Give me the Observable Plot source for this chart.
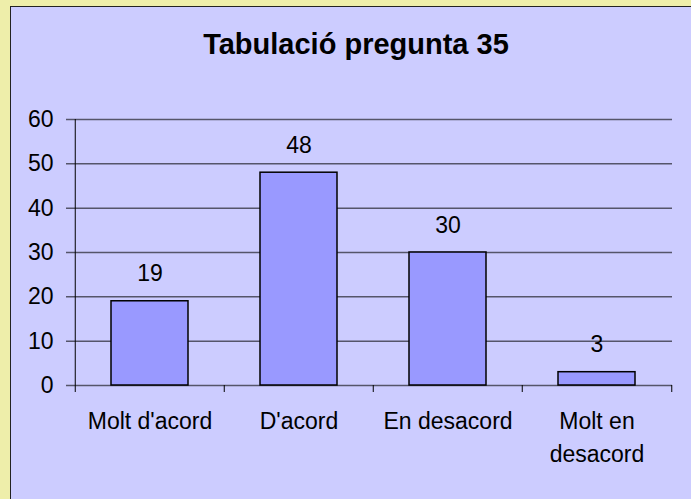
<!DOCTYPE html>
<html>
<head>
<meta charset="utf-8">
<script src="https://cdn.jsdelivr.net/npm/d3@7"></script>
<script src="https://cdn.jsdelivr.net/npm/@observablehq/plot@0.6"></script>
<style>
  html, body { margin: 0; padding: 0; }
  body { width: 691px; height: 499px; background: #EEEEAA; position: relative; overflow: hidden; font-family: "Liberation Sans", Arial, sans-serif; }
  #panel { position: absolute; left: 10px; top: 6px; width: 700px; height: 520px; background: #CCCCFF; border-left: 1.5px solid #222; border-top: 1.5px solid #222; }
  #title { position: absolute; left: 0; width: 712px; top: 30px; line-height: 29px; text-align: center; font-size: 29px; font-weight: bold; color: #000; }
  #chart { position: absolute; left: 0; top: 0; }
</style>
</head>
<body>
<div id="panel"></div>
<div id="title">Tabulació pregunta 35</div>
<div id="chart"></div>
<script>
const categories = ["Molt d'acord", "D'acord", "En desacord", "Molt en desacord"];
const categoryLabels = ["Molt d'acord", "D'acord", "En desacord", "Molt en\ndesacord"];
const values = [19, 48, 30, 3];
const yTicks = [0, 10, 20, 30, 40, 50, 60];

const data = categories.map((c, i) => ({cat: c, label: categoryLabels[i], value: values[i]}));

const W = 691, H = 499;
const mL = 74, mR = 19, mT = 119, mB = 114;
const step = (W - mL - mR) / categories.length;
const half = step / 2;
const font = "'Liberation Sans', Arial, sans-serif";

const chart = Plot.plot({
  width: W,
  height: H,
  marginLeft: mL,
  marginRight: mR,
  marginTop: mT,
  marginBottom: mB,
  style: {background: "transparent", fontFamily: font, fontSize: "23px", color: "#000", overflow: "visible"},
  x: {domain: categories, paddingInner: 0.48, paddingOuter: 0.24, axis: null},
  y: {domain: [0, 60], axis: null},
  marks: [
    Plot.ruleY(yTicks, {stroke: "#55556a", strokeWidth: 1.5, insetLeft: -8}),
    Plot.axisY({ticks: yTicks, label: null, tickSize: 0, tickPadding: 21, fontSize: 23, fill: "#000", stroke: null}),
    Plot.barY(data, {x: "cat", y: "value", fill: "#9999FF", stroke: "#000", strokeWidth: 1.5}),
    Plot.ruleX([categories[0]], {x: d => d, dx: -half, y1: 60, y2: 0, insetBottom: -7, stroke: "#000", strokeWidth: 1}),
    Plot.ruleX(categories.slice(1), {x: d => d, dx: -half, y1: 0, insetBottom: -7, stroke: "#000", strokeWidth: 1}),
    Plot.ruleX([categories[categories.length - 1]], {x: d => d, dx: half, y1: 0, insetBottom: -7, stroke: "#000", strokeWidth: 1}),
    Plot.text(data, {x: "cat", y: "value", text: d => String(d.value), lineAnchor: "bottom", dy: -20, fontSize: 23, fill: "#000"}),
    Plot.text(data, {x: "cat", y: 0, text: "label", lineAnchor: "top", dy: 20, lineHeight: 1.43, fontSize: 23, fill: "#000"})
  ]
});
document.getElementById("chart").appendChild(chart);
</script>
</body>
</html>
